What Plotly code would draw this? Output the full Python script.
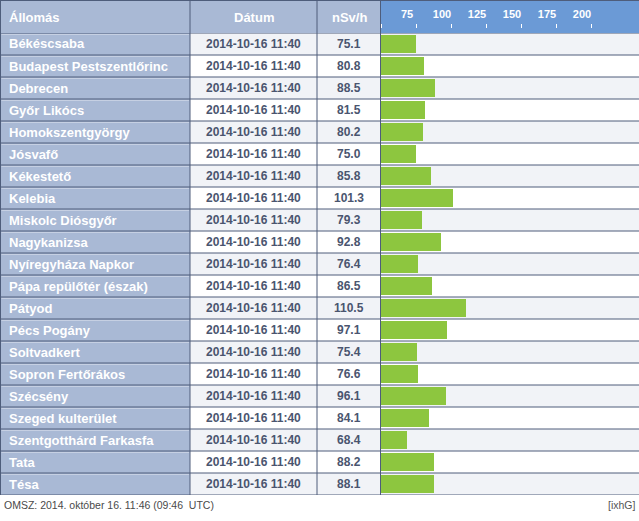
import plotly.graph_objects as go

# ---------------- data ----------------
stations = [
    "Békéscsaba", "Budapest Pestszentlőrinc", "Debrecen", "Győr Likócs",
    "Homokszentgyörgy", "Jósvafő", "Kékestető", "Kelebia", "Miskolc Diósgyőr",
    "Nagykanizsa", "Nyíregyháza Napkor", "Pápa repülőtér (észak)", "Pátyod",
    "Pécs Pogány", "Soltvadkert", "Sopron Fertőrákos", "Szécsény",
    "Szeged kulterület", "Szentgotthárd Farkasfa", "Tata", "Tésa",
]
dates = [
    "2014-10-16 11:40", "2014-10-16 11:40", "2014-10-16 11:40", "2014-10-16 11:40",
    "2014-10-16 11:40", "2014-10-16 11:40", "2014-10-16 11:40", "2014-10-16 11:40",
    "2014-10-16 11:40", "2014-10-16 11:40", "2014-10-16 11:40", "2014-10-16 11:40",
    "2014-10-16 11:40", "2014-10-16 11:40", "2014-10-16 11:40", "2014-10-16 11:40",
    "2014-10-16 11:40", "2014-10-16 11:40", "2014-10-16 11:40", "2014-10-16 11:40",
    "2014-10-16 11:40",
]
values = [75.1, 80.8, 88.5, 81.5, 80.2, 75.0, 85.8, 101.3, 79.3, 92.8, 76.4,
          86.5, 110.5, 97.1, 75.4, 76.6, 96.1, 84.1, 68.4, 88.2, 88.1]
headers = ["Állomás", "Dátum", "nSv/h"]
tick_values = [50, 75, 100, 125, 150, 175, 200]
tick_labels = ["", "75", "100", "125", "150", "175", "200"]
axis_base = 50
footer_left = "OMSZ: 2014. október 16. 11:46 (09:46  UTC)"
footer_right = "[ixhG]"

# ---------------- layout constants ----------------
W, H = 639, 521
HEADER_H = 33
ROW_H = 22
TABLE_BOTTOM = HEADER_H + ROW_H * len(stations)  # 495
COL_X = [0, 190, 317, 381, W]
PX_PER_UNIT = 1.4

C_LINE = "#4e5d7b"
C_HEAD = "#a9b9d5"
C_HEAD_CHART = "#6b9ad6"
C_ROW_ALT = "#f1f3f7"
C_TEXT = "#4a556f"
C_BAR = "#8dc63f"
FONT = "Liberation Sans"


def px_x(p):
    return p / W


def px_y(p):
    return (H - p) / H


n = len(stations)
fig = go.Figure()
fig.add_trace(go.Bar(
    y=stations,
    x=[v - axis_base for v in values],
    base=axis_base,
    orientation="h",
    width=0.86,
    marker=dict(color=C_BAR, line=dict(width=0)),
    hoverinfo="skip",
    showlegend=False,
))

shapes = []
# header backgrounds
shapes.append(dict(type="rect", xref="paper", yref="paper", x0=0, x1=px_x(COL_X[3]),
                   y0=px_y(HEADER_H), y1=1, fillcolor=C_HEAD, line=dict(width=0), layer="below"))
shapes.append(dict(type="rect", xref="paper", yref="paper", x0=px_x(COL_X[3]), x1=1,
                   y0=px_y(HEADER_H), y1=1, fillcolor=C_HEAD_CHART, line=dict(width=0), layer="below"))
# station column background
shapes.append(dict(type="rect", xref="paper", yref="paper", x0=0, x1=px_x(COL_X[1]),
                   y0=px_y(TABLE_BOTTOM), y1=px_y(HEADER_H), fillcolor=C_HEAD,
                   line=dict(width=0), layer="below"))
# alternating rows + bevel highlight in station cells
for i in range(n):
    if i % 2 == 0:
        shapes.append(dict(type="rect", xref="paper", yref="y", x0=px_x(COL_X[1]), x1=1,
                           y0=i - 0.5, y1=i + 0.5, fillcolor=C_ROW_ALT,
                           line=dict(width=0), layer="below"))
    shapes.append(dict(type="line", xref="paper", yref="y", x0=px_x(1.5), x1=px_x(COL_X[1] - 1),
                       y0=i - 0.5 + 1.5 / ROW_H, y1=i - 0.5 + 1.5 / ROW_H,
                       line=dict(color="#c6d0e3", width=1), layer="below"))
# horizontal grid lines
for i in range(n + 1):
    shapes.append(dict(type="line", xref="paper", yref="y", x0=0, x1=1,
                       y0=i - 0.5, y1=i - 0.5, line=dict(color=C_LINE, width=1)))
shapes.append(dict(type="line", xref="paper", yref="paper", x0=0, x1=1,
                   y0=px_y(0.5), y1=px_y(0.5), line=dict(color=C_LINE, width=1)))
# vertical lines
for cx in [0.5, COL_X[1], COL_X[2], COL_X[3] - 0.5]:
    shapes.append(dict(type="line", xref="paper", yref="paper", x0=px_x(cx), x1=px_x(cx),
                       y0=px_y(TABLE_BOTTOM), y1=1, line=dict(color=C_LINE, width=1)))

annotations = []
head_font = dict(family=FONT, size=13, color="white", weight="bold")
annotations.append(dict(text=headers[0], xref="paper", yref="paper", x=px_x(7), xanchor="left",
                        y=px_y(17), yanchor="middle", showarrow=False, font=head_font))
annotations.append(dict(text=headers[1], xref="paper", yref="paper",
                        x=px_x((COL_X[1] + COL_X[2]) / 2), xanchor="center",
                        y=px_y(17), yanchor="middle", showarrow=False, font=head_font))
annotations.append(dict(text=headers[2], xref="paper", yref="paper",
                        x=px_x((COL_X[2] + COL_X[3]) / 2), xanchor="center",
                        y=px_y(17), yanchor="middle", showarrow=False, font=head_font))
for i in range(n):
    annotations.append(dict(text=stations[i], xref="paper", yref="y", x=px_x(7), xanchor="left",
                            y=stations[i], yanchor="middle", showarrow=False,
                            font=dict(family=FONT, size=13, color="white", weight="bold")))
    annotations.append(dict(text=dates[i], xref="paper", yref="y",
                            x=px_x((COL_X[1] + COL_X[2]) / 2), xanchor="center",
                            y=stations[i], yanchor="middle", showarrow=False,
                            font=dict(family=FONT, size=12, color=C_TEXT, weight="bold")))
    annotations.append(dict(text=f"{values[i]:.1f}", xref="paper", yref="y",
                            x=px_x((COL_X[2] + COL_X[3]) / 2), xanchor="center",
                            y=stations[i], yanchor="middle", showarrow=False,
                            font=dict(family=FONT, size=12, color=C_TEXT, weight="bold")))
annotations.append(dict(text=footer_left, xref="paper", yref="paper", x=px_x(2), xanchor="left",
                        y=px_y(505), yanchor="middle", showarrow=False,
                        font=dict(family=FONT, size=10.5, color="#4a4a4a")))
annotations.append(dict(text=footer_right, xref="paper", yref="paper", x=px_x(638), xanchor="right",
                        y=px_y(505), yanchor="middle", showarrow=False,
                        font=dict(family=FONT, size=10.5, color="#555555")))

fig.update_layout(
    width=W, height=H,
    margin=dict(l=0, r=0, t=0, b=0),
    paper_bgcolor="white", plot_bgcolor="rgba(0,0,0,0)",
    shapes=shapes, annotations=annotations,
    bargap=0, showlegend=False,
    xaxis=dict(
        domain=[px_x(COL_X[3]), 1],
        range=[axis_base, axis_base + (W - COL_X[3]) / PX_PER_UNIT],
        side="top", anchor="free", position=px_y(27.5),
        tickvals=tick_values, ticktext=tick_labels,
        ticks="outside", ticklen=4, tickwidth=1, tickcolor="white",
        tickfont=dict(family=FONT, size=11, color="white", weight="bold"),
        ticklabelshift=-9, ticklabelstandoff=1,
        showgrid=False, zeroline=False, showline=False, fixedrange=True,
    ),
    yaxis=dict(
        domain=[px_y(TABLE_BOTTOM), px_y(HEADER_H)],
        type="category", categoryorder="array", categoryarray=stations,
        range=[n - 0.5, -0.5],
        showticklabels=False, showgrid=False, zeroline=False, showline=False,
        ticks="", fixedrange=True,
    ),
)

fig.write_html(
    "out.html",
    config={"displayModeBar": False},
    post_script="document.body.style.margin='0';document.body.style.overflow='hidden';",
)
